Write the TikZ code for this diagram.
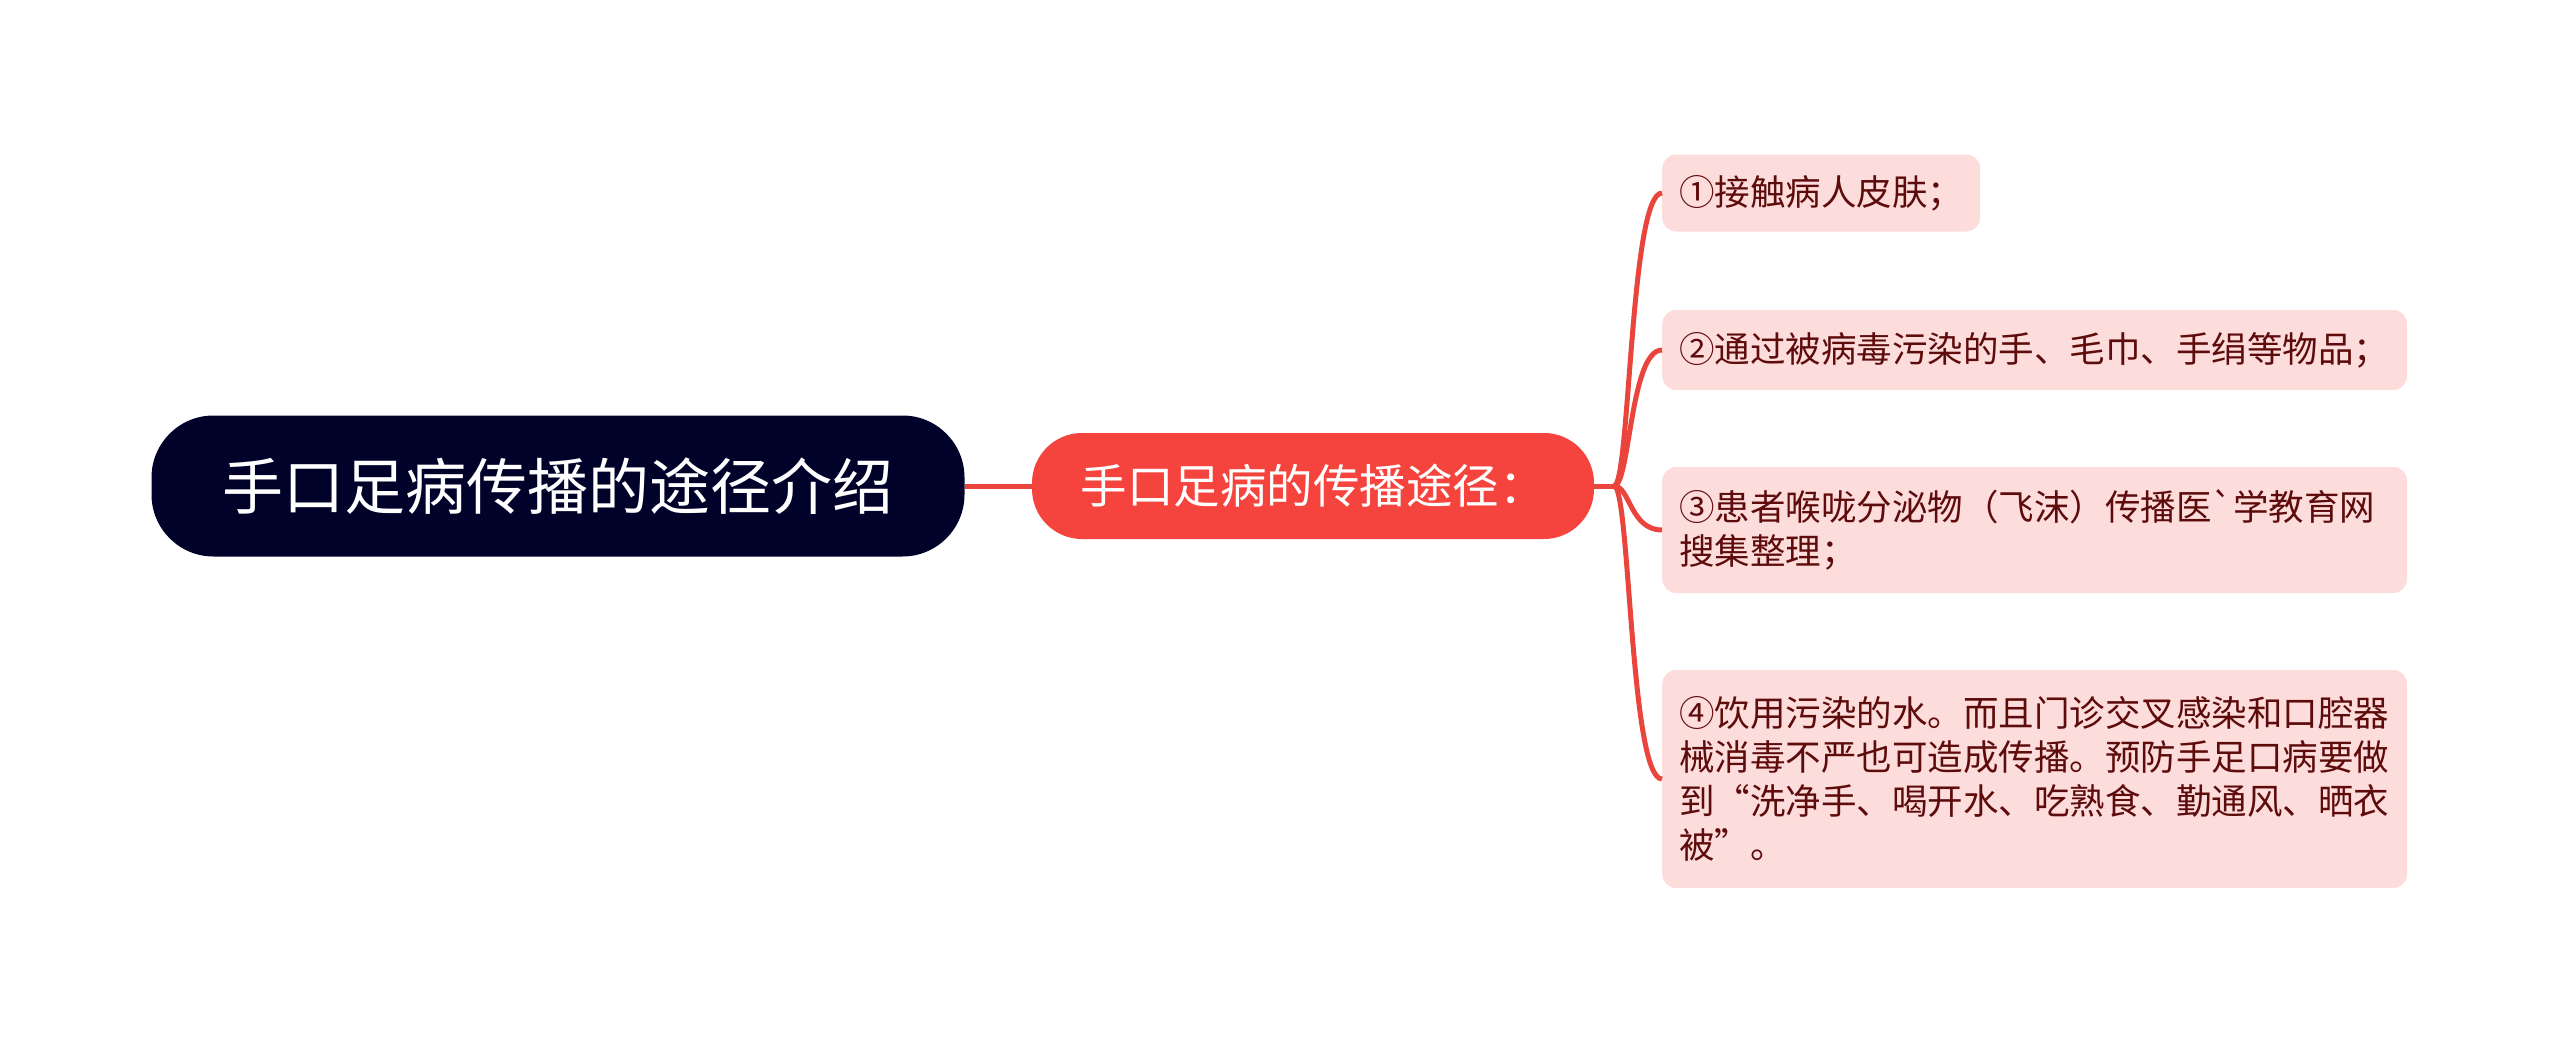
\documentclass[tikz,border=0pt]{standalone}
\usepackage{fontspec}
\setmainfont{Noto Sans CJK SC}[Ligatures=TeXOff]
\usetikzlibrary{calc}
\definecolor{rootblue}{HTML}{000229}
\definecolor{subred}{HTML}{F5443E}
\definecolor{linered}{HTML}{E9453D}
\definecolor{leafpink}{HTML}{FDDCDC}
\definecolor{leaftext}{HTML}{5E0B0B}
\begin{document}
\begin{tikzpicture}[x=1pt,y=-1pt,
  topic/.style={rounded corners=#1,inner sep=0pt,text=white,align=center},
  leaf/.style={fill=leafpink,rounded corners=14pt,anchor=west,inner xsep=17pt,inner ysep=0pt,
    text=leaftext,align=left,font=\fontsize{35.5}{44}\selectfont},
  branch/.style={draw=linered,line width=5pt}]
\useasboundingbox (0,0) rectangle (2560,1041);
% main topic and sub topic
\node[topic=62pt,fill=rootblue,minimum width=813pt,minimum height=141pt,font=\fontsize{61}{64}\selectfont] (root) at (558,486) {手口足病传播的途径介绍};
\node[topic=50pt,fill=subred,minimum width=562pt,minimum height=106pt,font=\fontsize{46.5}{50}\selectfont] (route) at (1313,486) {手口足病的传播途径：};
% leaves
\node[leaf,minimum height=77pt] (skin) at (1662,193) {①接触病人皮肤；};
\node[leaf,text width=711pt,minimum height=80pt] (goods) at (1662,350) {②通过被病毒污染的手、毛巾、手绢等物品；};
\node[leaf,text width=711pt,minimum height=126pt] (droplet) at (1662,530) {③患者喉咙分泌物（飞沫）传播医`学教育网\\搜集整理；};
\node[leaf,text width=711pt,minimum height=218pt] (water) at (1662,779) {④饮用污染的水。而且门诊交叉感染和口腔器\\械消毒不严也可造成传播。预防手足口病要做\\到“洗净手、喝开水、吃熟食、勤通风、晒衣\\被”。};
% connectors
\coordinate (hub) at (1614,486);
\draw[branch] (root) -- (route);
\draw[branch] (route.east) -- (hub);
\foreach \n in {skin,goods,droplet,water}
  \draw[branch] (hub) .. controls ($(hub)+(16,0)$) and ($(\n.west)+(-32,0)$) .. (\n.west);
\end{tikzpicture}
\end{document}
